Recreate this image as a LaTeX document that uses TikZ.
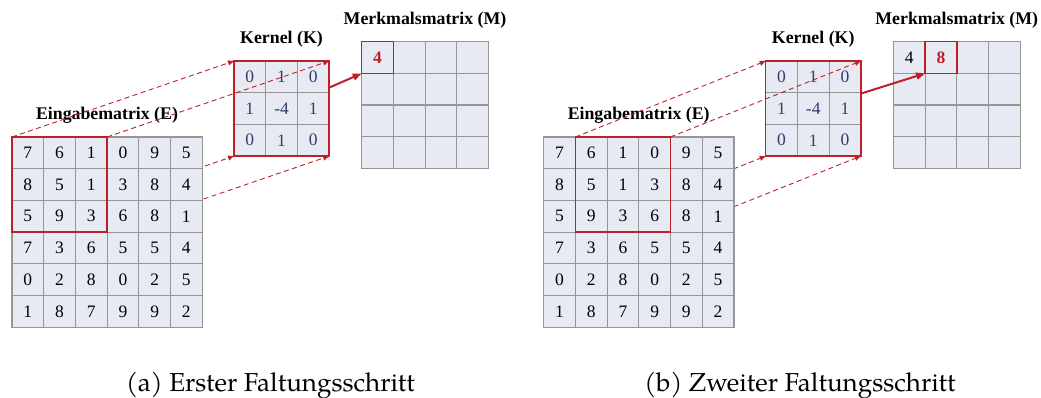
\documentclass[tikz,border=0pt]{standalone}
\usepackage{fontspec}
\setmainfont{Liberation Serif}
\newfontfamily\capfont{texgyrepagella-regular.otf}
\usetikzlibrary{arrows.meta}
\pgfdeclarelayer{back}
\pgfsetlayers{back,main}
\definecolor{cellfill}{RGB}{232,234,243}
\definecolor{gridgray}{RGB}{150,150,150}
\definecolor{hlred}{RGB}{190,32,42}
\definecolor{kernblue}{RGB}{45,62,105}
% grid lines of a matrix whose top-left cell is #1, with #2 rows and #3 columns
\newcommand\cellgrid[3]{%
  \foreach \i in {0,...,#3}
    \draw[gridline] ([xshift=\i*31.7pt]#1.north west) -- ++(0,#2*31.7);
  \foreach \i in {0,...,#2}
    \draw[gridline] ([yshift=-\i*31.7pt]#1.north west) -- ++(#3*31.7,0);
}
\begin{document}
\begin{tikzpicture}[x=1pt,y=-1pt,
  cell/.style={fill=cellfill, minimum size=31.7pt,
    inner sep=0pt, outer sep=0pt, anchor=north west, font=\fontsize{17.5}{20}\selectfont},
  kcell/.style={cell, text=kernblue},
  gridline/.style={draw=gridgray, line width=1.2pt, line cap=rect},
  title/.style={font=\bfseries\fontsize{17.8}{20}\selectfont, inner sep=0pt},
  window/.style={draw=hlred, line width=1.5pt},
  guide/.style={draw=hlred, line width=0.9pt, dash pattern=on 5pt off 3.5pt,
    -{Triangle[length=6pt,width=5pt]}},
  mapto/.style={draw=hlred, line width=2pt, -{Triangle[length=9pt,width=7pt]}},
  result/.style={inner sep=0pt, font=\fontsize{17.5}{20}\selectfont},
  caption/.style={font=\capfont\fontsize{26}{30}\selectfont, inner sep=0pt, anchor=base}]
\useasboundingbox (0,0) rectangle (1041,398);

\foreach \p/\dx/\wc in {a/0/1, b/531.7/2} {
  \pgfmathtruncatemacro\we{\wc+2}
  % input matrix E
  \foreach \r/\row in {1/{7,6,1,0,9,5}, 2/{8,5,1,3,8,4}, 3/{5,9,3,6,8,1},
                       4/{7,3,6,5,5,4}, 5/{0,2,8,0,2,5}, 6/{1,8,7,9,9,2}} {
    \foreach \v [count=\c] in \row {
      \node[cell] (E\p-\r-\c) at ({12+\dx+(\c-1)*31.7}, {137+(\r-1)*31.7}) {\v};
    }
  }
  \cellgrid{E\p-1-1}{6}{6}
  % kernel K
  \foreach \r/\row in {1/{0,1,0}, 2/{1,-4,1}, 3/{0,1,0}} {
    \foreach \v [count=\c] in \row {
      \node[kcell] (K\p-\r-\c) at ({234+\dx+(\c-1)*31.7}, {61+(\r-1)*31.7}) {\v};
    }
  }
  \cellgrid{K\p-1-1}{3}{3}
  % highlighted window and kernel outline
  \draw[window] (E\p-1-\wc.north west) rectangle (E\p-3-\we.south east);
  \draw[window] (K\p-1-1.north west) rectangle (K\p-3-3.south east);
  % titles
  \node[title] (tE\p) at ({107+\dx}, 115.7) {Eingabematrix (E)};
  \node[title] (tK\p) at ({281.5+\dx}, 39.3) {Kernel (K)};
  \node[title] (tM\p) at ({425+\dx}, 20.7) {Merkmalsmatrix (M)};
  \begin{pgfonlayer}{back}
    % feature map M with the current output cell
    \foreach \r in {1,...,4} {
      \foreach \c in {1,...,4} {
        \node[cell] (M\p-\r-\c) at ({361.7+\dx+(\c-1)*31.7}, {41.7+(\r-1)*31.7}) {};
      }
    }
    \cellgrid{M\p-1-1}{4}{4}
    \draw[window] (M\p-1-\wc.north west) rectangle (M\p-1-\wc.south east);
    % projections hidden behind the input matrix and the kernel
    \draw[guide] (E\p-3-\wc.south west) -- (K\p-3-1.south west);
    \draw[guide] (E\p-3-\we.south east) -- (K\p-3-3.south east);
    \draw[mapto] (K\p-2-2.center) -- (M\p-1-\wc.south west);
  \end{pgfonlayer}
  % projections drawn in front
  \draw[guide] (E\p-1-\wc.north west) -- (K\p-1-1.north west);
  \draw[guide] (E\p-1-\we.north east) -- (K\p-1-3.north east);
}

% computed output values
\node[result, text=hlred, font=\bfseries\fontsize{17.5}{20}\selectfont] (ra) at (Ma-1-1) {4};
\node[result] (rb1) at (Mb-1-1) {4};
\node[result, text=hlred, font=\bfseries\fontsize{17.5}{20}\selectfont] (rb2) at (Mb-1-2) {8};

% sub-captions
\node[caption] (capa) at (270.5,391.5) {(a) Erster Faltungsschritt};
\node[caption] (capb) at (800,391.5) {(b) Zweiter Faltungsschritt};
\end{tikzpicture}
\end{document}
